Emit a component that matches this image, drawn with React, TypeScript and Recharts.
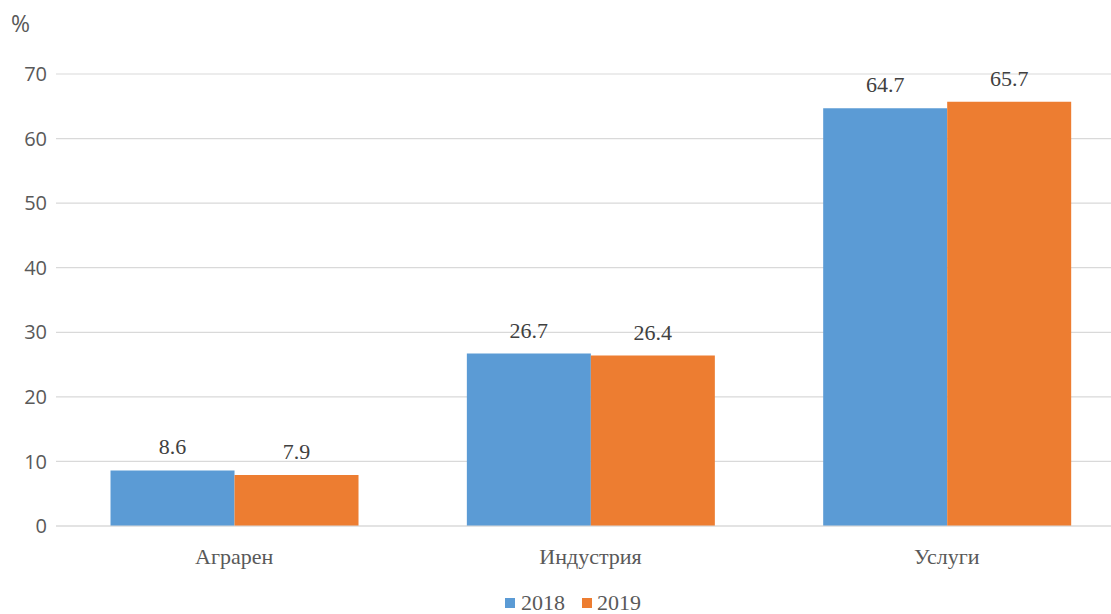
import React from 'react';
import { BarChart, Bar, XAxis, YAxis, CartesianGrid, LabelList } from 'recharts';

const categories = ['Аграрен', 'Индустрия', 'Услуги'];
const values2018 = [8.6, 26.7, 64.7];
const values2019 = [7.9, 26.4, 65.7];
const yTicks = [0, 10, 20, 30, 40, 50, 60, 70];

const data = categories.map((name, i) => ({ name, y2018: values2018[i], y2019: values2019[i] }));

const BLUE = '#5B9BD5';
const ORANGE = '#ED7D31';
const SERIF = '"Liberation Serif", "Times New Roman", serif';
const SANS = '"Open Sans", "Noto Sans", sans-serif';

// value label above each bar, serif like the original
const renderValue = (props: any) => {
  const { x, y, width, value } = props;
  return (
    <text
      x={Number(x) + Number(width) / 2}
      y={Number(y) - 16}
      textAnchor="middle"
      fontFamily={SERIF}
      fontSize={22}
      fill="#404040"
    >
      {value}
    </text>
  );
};

export default function App() {
  return (
    <div style={{ position: 'absolute', left: 0, top: 0, width: 1111, height: 614, overflow: 'hidden', background: '#fff' }}>
      {/* axis unit */}
      <div style={{ position: 'absolute', left: 11, top: 12, fontFamily: SANS, fontSize: 23, lineHeight: '23px', color: '#595959' }}>%</div>

      <BarChart
        width={1125}
        height={614}
        data={data}
        margin={{ top: 74, right: 0, bottom: 48, left: 0 }}
        barCategoryGap="15.3%"
        barGap={0}
      >
        <CartesianGrid vertical={false} stroke="#d9d9d9" strokeWidth={1.2} />
        <XAxis
          dataKey="name"
          height={40}
          axisLine={{ stroke: '#d9d9d9', strokeWidth: 1.2 }}
          tickLine={false}
          tickSize={0}
          tickMargin={22}
          tick={{ fontFamily: SERIF, fontSize: 22, fill: '#595959' }}
        />
        <YAxis
          width={56}
          domain={[0, 70]}
          ticks={yTicks}
          axisLine={false}
          tickLine={false}
          tickSize={0}
          tickMargin={9}
          tick={{ fontFamily: SANS, fontSize: 20, fill: '#595959' }}
        />
        <Bar dataKey="y2018" fill={BLUE} isAnimationActive={false}>
          <LabelList dataKey="y2018" content={renderValue} />
        </Bar>
        <Bar dataKey="y2019" fill={ORANGE} isAnimationActive={false}>
          <LabelList dataKey="y2019" content={renderValue} />
        </Bar>
      </BarChart>

      {/* Legend */}
      <div style={{ position: 'absolute', left: 505, top: 592, display: 'flex', alignItems: 'center', fontFamily: SERIF, fontSize: 22, lineHeight: '22px', color: '#595959' }}>
        <div style={{ width: 10, height: 10, background: BLUE, marginRight: 6 }} />
        <span style={{ marginRight: 17 }}>2018</span>
        <div style={{ width: 10, height: 10, background: ORANGE, marginRight: 5 }} />
        <span>2019</span>
      </div>
    </div>
  );
}
